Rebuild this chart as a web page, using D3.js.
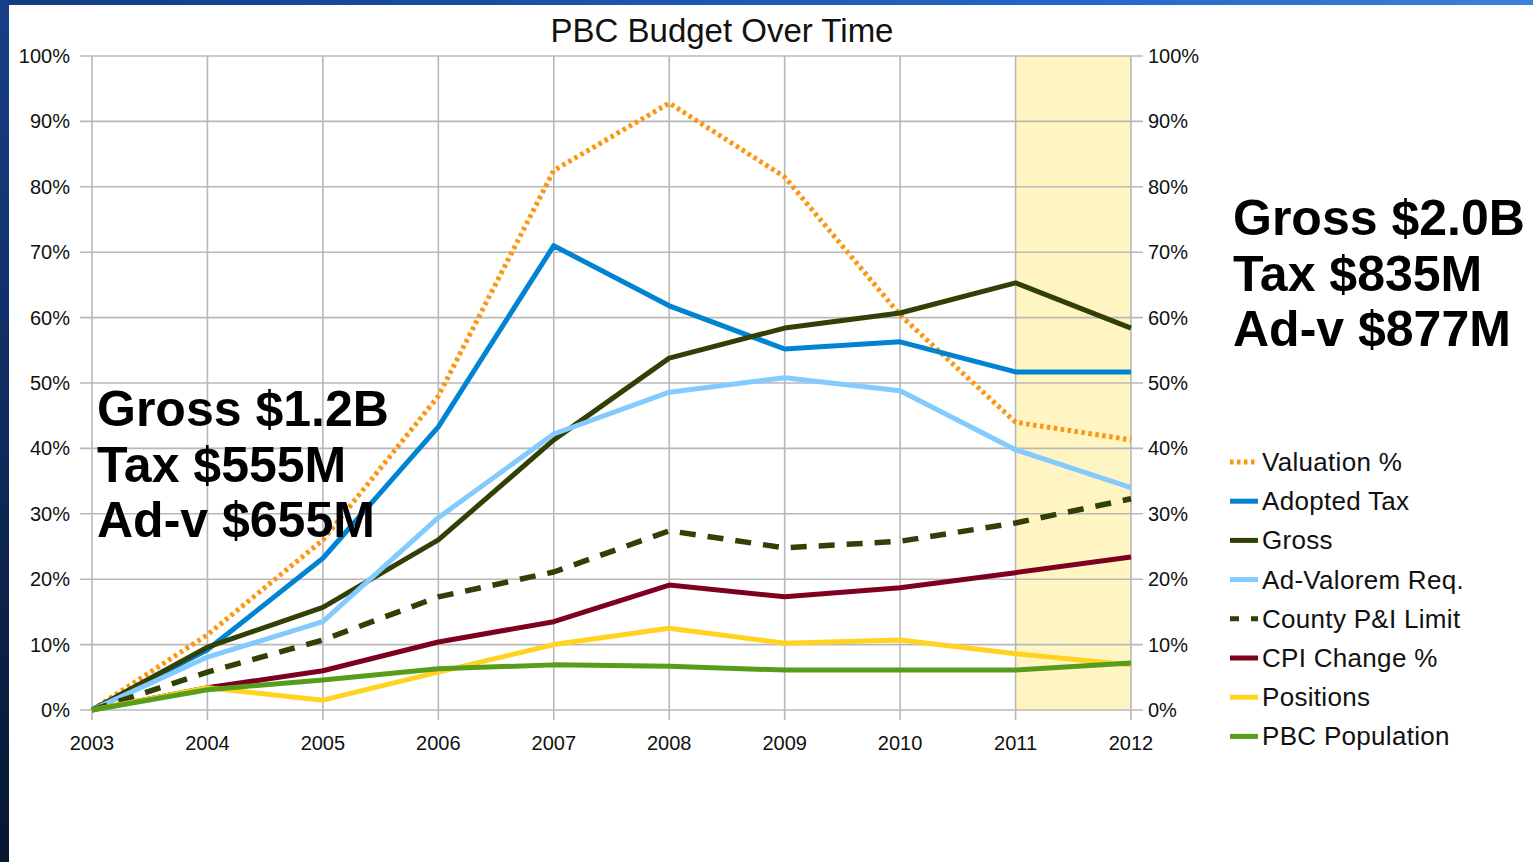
<!DOCTYPE html>
<html>
<head>
<meta charset="utf-8">
<script src="https://cdn.jsdelivr.net/npm/d3@7"></script>
<style>
  html, body { margin: 0; padding: 0; background: #fff; }
  svg { display: block; font-family: "Liberation Sans", Arial, sans-serif; }
</style>
</head>
<body>
<div id="chart"></div>
<script>
// data (percent change since 2003)
var years = [2003, 2004, 2005, 2006, 2007, 2008, 2009, 2010, 2011, 2012];
var valuation  = [0, 11.5, 26.0, 48.0, 82.5, 92.8, 81.5, 60.4, 44.0, 41.3];
var adoptedTax = [0, 9.2, 23.2, 43.3, 71.0, 61.8, 55.2, 56.3, 51.7, 51.7];
var gross      = [0, 9.6, 15.7, 26.0, 41.3, 53.8, 58.4, 60.7, 65.3, 58.4];
var adValorem  = [0, 8.1, 13.5, 29.4, 42.2, 48.6, 50.8, 48.8, 39.8, 34.0];
var countyPI   = [0, 5.8, 10.7, 17.3, 21.1, 27.4, 24.8, 25.8, 28.6, 32.3];
var cpiChange  = [0, 3.4, 6.0, 10.4, 13.5, 19.1, 17.3, 18.7, 21.0, 23.4];
var positions  = [0, 3.4, 1.5, 5.8, 10.0, 12.5, 10.2, 10.7, 8.6, 6.9];
var population = [0, 3.1, 4.6, 6.3, 6.9, 6.7, 6.1, 6.1, 6.1, 7.2];
var yTicks = [0, 10, 20, 30, 40, 50, 60, 70, 80, 90, 100];
var shadeYears = [2011, 2012];

var seriesNames = ["Valuation %", "Adopted Tax", "Gross", "Ad-Valorem Req.", "County  P&I Limit", "CPI Change %", "Positions", "PBC Population"];
var seriesValues = [valuation, adoptedTax, gross, adValorem, countyPI, cpiChange, positions, population];
var seriesColors = ["#ff950e", "#0084d1", "#314004", "#83caff", "#314004", "#7e0021", "#ffd320", "#579d1c"];
var seriesDash = ["3.5,3.5", null, null, null, "16,12", null, null, null];

var leftNotes = ["Gross $1.2B", "Tax $555M", "Ad-v $655M"];
var rightNotes = ["Gross $2.0B", "Tax $835M", "Ad-v $877M"];

var width = 1533, height = 862;
var x = d3.scaleLinear().domain([2003, 2012]).range([92, 1131]);
var y = d3.scaleLinear().domain([0, 100]).range([710, 56]);

var svg = d3.select("#chart").append("svg")
    .attr("width", width)
    .attr("height", height);

// slide frame
var defs = svg.append("defs");
var gTop = defs.append("linearGradient").attr("id", "topband");
gTop.append("stop").attr("offset", "0%").attr("stop-color", "#123b82");
gTop.append("stop").attr("offset", "70%").attr("stop-color", "#2466cc");
gTop.append("stop").attr("offset", "100%").attr("stop-color", "#3b82d8");
var gLeft = defs.append("linearGradient").attr("id", "leftband")
    .attr("x1", 0).attr("y1", 0).attr("x2", 0).attr("y2", 1);
gLeft.append("stop").attr("offset", "0%").attr("stop-color", "#173f88");
gLeft.append("stop").attr("offset", "100%").attr("stop-color", "#071631");

svg.append("rect").attr("width", width).attr("height", height).attr("fill", "#fff");

// shaded 2011-2012 region
svg.append("rect")
    .attr("x", x(shadeYears[0]))
    .attr("y", y(100))
    .attr("width", x(shadeYears[1]) - x(shadeYears[0]))
    .attr("height", y(0) - y(100))
    .attr("fill", "#fff5c3");

// grid
var grid = svg.append("g").attr("stroke", "#b8b8b8").attr("stroke-width", 1.6);
grid.selectAll(".h").data(yTicks).enter().append("line")
    .attr("x1", x(2003) - 12).attr("x2", x(2012) + 12)
    .attr("y1", function(d) { return y(d); })
    .attr("y2", function(d) { return y(d); });
grid.selectAll(".v").data(years).enter().append("line")
    .attr("x1", function(d) { return x(d); })
    .attr("x2", function(d) { return x(d); })
    .attr("y1", y(100)).attr("y2", y(0) + 10);

// tick labels
svg.append("g").selectAll("text").data(yTicks).enter().append("text")
    .attr("x", 70).attr("y", function(d) { return y(d) + 7; })
    .attr("text-anchor", "end").attr("font-size", 20).attr("fill", "#111")
    .text(function(d) { return d + "%"; });
svg.append("g").selectAll("text").data(yTicks).enter().append("text")
    .attr("x", 1148).attr("y", function(d) { return y(d) + 7; })
    .attr("text-anchor", "start").attr("font-size", 20).attr("fill", "#111")
    .text(function(d) { return d + "%"; });
svg.append("g").selectAll("text").data(years).enter().append("text")
    .attr("x", function(d) { return x(d); }).attr("y", 750)
    .attr("text-anchor", "middle").attr("font-size", 20).attr("fill", "#111")
    .text(function(d) { return d; });

// title
svg.append("text")
    .attr("x", 722).attr("y", 42)
    .attr("text-anchor", "middle").attr("font-size", 33).attr("fill", "#111")
    .text("PBC Budget Over Time");

// lines
var line = d3.line()
    .x(function(d, i) { return x(years[i]); })
    .y(function(d) { return y(d); });

svg.append("g").selectAll("path").data(seriesValues).enter().append("path")
    .attr("d", line)
    .attr("fill", "none")
    .attr("stroke", function(d, i) { return seriesColors[i]; })
    .attr("stroke-width", function(d, i) { return i == 4 ? 5.5 : 5; })
    .attr("stroke-dasharray", function(d, i) { return seriesDash[i]; })
    .attr("stroke-linejoin", "round");

// legend
var legend = svg.append("g").attr("transform", "translate(1230,462)");
var item = legend.selectAll("g").data(seriesNames).enter().append("g")
    .attr("transform", function(d, i) { return "translate(0," + (i * 39.2) + ")"; });
item.append("line")
    .attr("x1", 0).attr("x2", 28).attr("y1", 0).attr("y2", 0)
    .attr("stroke", function(d, i) { return seriesColors[i]; })
    .attr("stroke-width", 5)
    .attr("stroke-dasharray", function(d, i) { return i == 4 ? "9,12" : seriesDash[i]; });
item.append("text")
    .attr("x", 32).attr("y", 9)
    .attr("font-size", 26).attr("fill", "#111")
    .attr("letter-spacing", 0.3)
    .text(function(d) { return d; });

// big notes
svg.append("g").selectAll("text").data(leftNotes).enter().append("text")
    .attr("x", 97).attr("y", function(d, i) { return 426 + i * 55.5; })
    .attr("font-size", 50).attr("font-weight", "bold").attr("fill", "#000")
    .text(function(d) { return d; });
svg.append("g").selectAll("text").data(rightNotes).enter().append("text")
    .attr("x", 1233).attr("y", function(d, i) { return 235 + i * 55.5; })
    .attr("font-size", 50).attr("font-weight", "bold").attr("fill", "#000")
    .text(function(d) { return d; });

// frame bands
svg.append("rect").attr("x", 0).attr("y", 0).attr("width", width).attr("height", 5).attr("fill", "url(#topband)");
svg.append("rect").attr("x", 0).attr("y", 0).attr("width", 9).attr("height", height).attr("fill", "url(#leftband)");
</script>
</body>
</html>
